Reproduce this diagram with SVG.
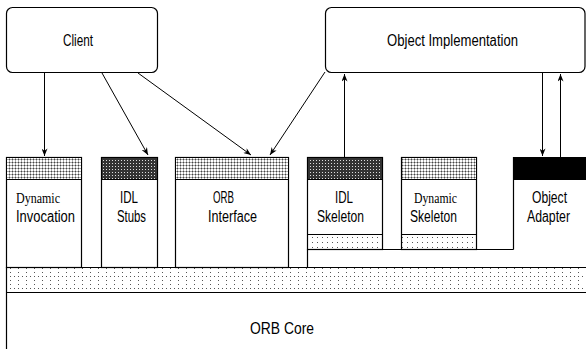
<svg xmlns="http://www.w3.org/2000/svg" width="586" height="349" viewBox="0 0 586 349">
  <style>
    .box { fill: #fff; stroke: #000; stroke-width: 1.2; }
    .ln { fill: none; stroke: #000; stroke-width: 1.2; }
    .conn { fill: none; stroke: #000; stroke-width: 1; }
    text { font-family: "Liberation Sans", Arial, sans-serif; font-size: 16px; fill: #000; }
    text.serif { font-family: "Liberation Serif", "Times New Roman", serif; font-size: 15px; }
  </style>
  <defs>
    <!-- light grid shading -->
    <pattern id="grid" width="3" height="3" patternUnits="userSpaceOnUse">
      <rect width="3" height="3" fill="#fff"/>
      <rect width="3" height="1" fill="#aaa"/>
      <rect width="1" height="3" fill="#aaa"/>
      <rect width="1" height="1" fill="#444"/>
    </pattern>
    <!-- dark cross-hatch shading -->
    <pattern id="hatch" width="3" height="3" patternUnits="userSpaceOnUse">
      <rect width="3" height="3" fill="#333"/>
      <rect x="1" y="1" width="1" height="1" fill="#ddd"/>
    </pattern>
    <!-- dotted band -->
    <pattern id="dots" x="0" y="271" width="8" height="12" patternUnits="userSpaceOnUse">
      <rect x="2" y="1" width="1" height="1" fill="#555"/>
      <rect x="2" y="5" width="1" height="1" fill="#555"/>
      <rect x="6" y="5" width="1" height="1" fill="#555"/>
      <rect x="2" y="9" width="1" height="1" fill="#555"/>
    </pattern>
    <pattern id="dots2" x="0" y="236" width="5" height="5" patternUnits="userSpaceOnUse">
      <rect x="2" y="1" width="1" height="1" fill="#555"/>
    </pattern>
    <marker id="arr" viewBox="0 0 10 8" refX="10" refY="4" markerWidth="8" markerHeight="6" orient="auto" markerUnits="userSpaceOnUse">
      <path d="M0,0 L10,4 L0,8 L3,4 Z" fill="#000"/>
    </marker>
  </defs>

  <g id="client">
    <rect class="box" x="6.5" y="7.5" width="151" height="65" rx="6"/>
    <text x="63" y="46" textLength="30" lengthAdjust="spacingAndGlyphs">Client</text>
  </g>

  <g id="object-implementation">
    <rect class="box" x="325.5" y="7.5" width="259.5" height="65" rx="6"/>
    <text x="387" y="46" textLength="131" lengthAdjust="spacingAndGlyphs">Object  Implementation</text>
  </g>

  <g id="orb-core">
    <path class="ln" d="M6.5,349 V267.5 H586"/>
    <rect x="7" y="268" width="579" height="24" fill="url(#dots)"/>
    <path class="ln" d="M6.5,292.5 H586"/>
    <text x="250" y="334" textLength="64" lengthAdjust="spacingAndGlyphs">ORB  Core</text>
  </g>

  <g id="dynamic-invocation">
    <rect class="box" x="6.5" y="157.5" width="75" height="110"/>
    <rect x="7" y="158" width="74" height="21" fill="url(#grid)"/>
    <path class="ln" d="M6.5,179.5 H81.5"/>
    <text class="serif" x="16" y="203" textLength="44" lengthAdjust="spacingAndGlyphs">Dynamic</text>
    <text x="16" y="222" textLength="59" lengthAdjust="spacingAndGlyphs">Invocation</text>
  </g>

  <g id="idl-stubs">
    <rect class="box" x="101.5" y="157.5" width="56" height="110"/>
    <rect x="102" y="158" width="55" height="21" fill="url(#hatch)"/>
    <path class="ln" d="M101.5,179.5 H157.5"/>
    <text x="120" y="203" textLength="18" lengthAdjust="spacingAndGlyphs">IDL</text>
    <text x="117" y="222" textLength="29" lengthAdjust="spacingAndGlyphs">Stubs</text>
  </g>

  <g id="orb-interface">
    <rect class="box" x="175.5" y="157.5" width="113" height="110"/>
    <rect x="176" y="158" width="112" height="21" fill="url(#grid)"/>
    <path class="ln" d="M175.5,179.5 H288.5"/>
    <text x="213" y="203" textLength="21" lengthAdjust="spacingAndGlyphs">ORB</text>
    <text x="208" y="222" textLength="49" lengthAdjust="spacingAndGlyphs">Interface</text>
  </g>

  <g id="idl-skeleton">
    <rect class="box" x="307.5" y="157.5" width="75" height="92"/>
    <rect x="308" y="158" width="74" height="21" fill="url(#hatch)"/>
    <path class="ln" d="M307.5,179.5 H382.5 M307.5,234.5 H382.5"/>
    <rect x="308" y="235" width="74" height="14" fill="url(#dots2)"/>
    <text x="335" y="203" textLength="18" lengthAdjust="spacingAndGlyphs">IDL</text>
    <text x="317" y="222" textLength="47" lengthAdjust="spacingAndGlyphs">Skeleton</text>
  </g>

  <g id="dynamic-skeleton">
    <rect class="box" x="401.5" y="157.5" width="75" height="92"/>
    <rect x="402" y="158" width="74" height="21" fill="url(#grid)"/>
    <path class="ln" d="M401.5,179.5 H476.5 M401.5,234.5 H476.5"/>
    <rect x="402" y="235" width="74" height="14" fill="url(#dots2)"/>
    <text class="serif" x="414" y="203" textLength="43" lengthAdjust="spacingAndGlyphs">Dynamic</text>
    <text x="410" y="222" textLength="47" lengthAdjust="spacingAndGlyphs">Skeleton</text>
  </g>

  <g id="object-adapter">
    <path class="ln" d="M513.5,249.5 V157.5 H586"/>
    <rect x="513" y="157" width="73" height="23" fill="#000"/>
    <text x="532" y="203" textLength="35" lengthAdjust="spacingAndGlyphs">Object</text>
    <text x="527" y="222" textLength="43" lengthAdjust="spacingAndGlyphs">Adapter</text>
  </g>

  <!-- skeleton base rail tying the server side to the ORB core -->
  <g id="skeleton-rail">
    <path class="ln" d="M307.5,249.5 H513.5 M307.5,249.5 V267.5"/>
  </g>

  <g id="connectors">
    <line class="conn" x1="44.5" y1="73" x2="44.5" y2="156" marker-end="url(#arr)"/>
    <line class="conn" x1="102" y1="73" x2="148" y2="155" marker-end="url(#arr)"/>
    <line class="conn" x1="138" y1="73" x2="251" y2="155" marker-end="url(#arr)"/>
    <line class="conn" x1="325" y1="72" x2="270" y2="155" marker-end="url(#arr)"/>
    <line class="conn" x1="344.5" y1="157" x2="344.5" y2="74" marker-end="url(#arr)"/>
    <line class="conn" x1="542.5" y1="73" x2="542.5" y2="156" marker-end="url(#arr)"/>
    <line class="conn" x1="560.5" y1="157" x2="560.5" y2="74" marker-end="url(#arr)"/>
  </g>
</svg>
